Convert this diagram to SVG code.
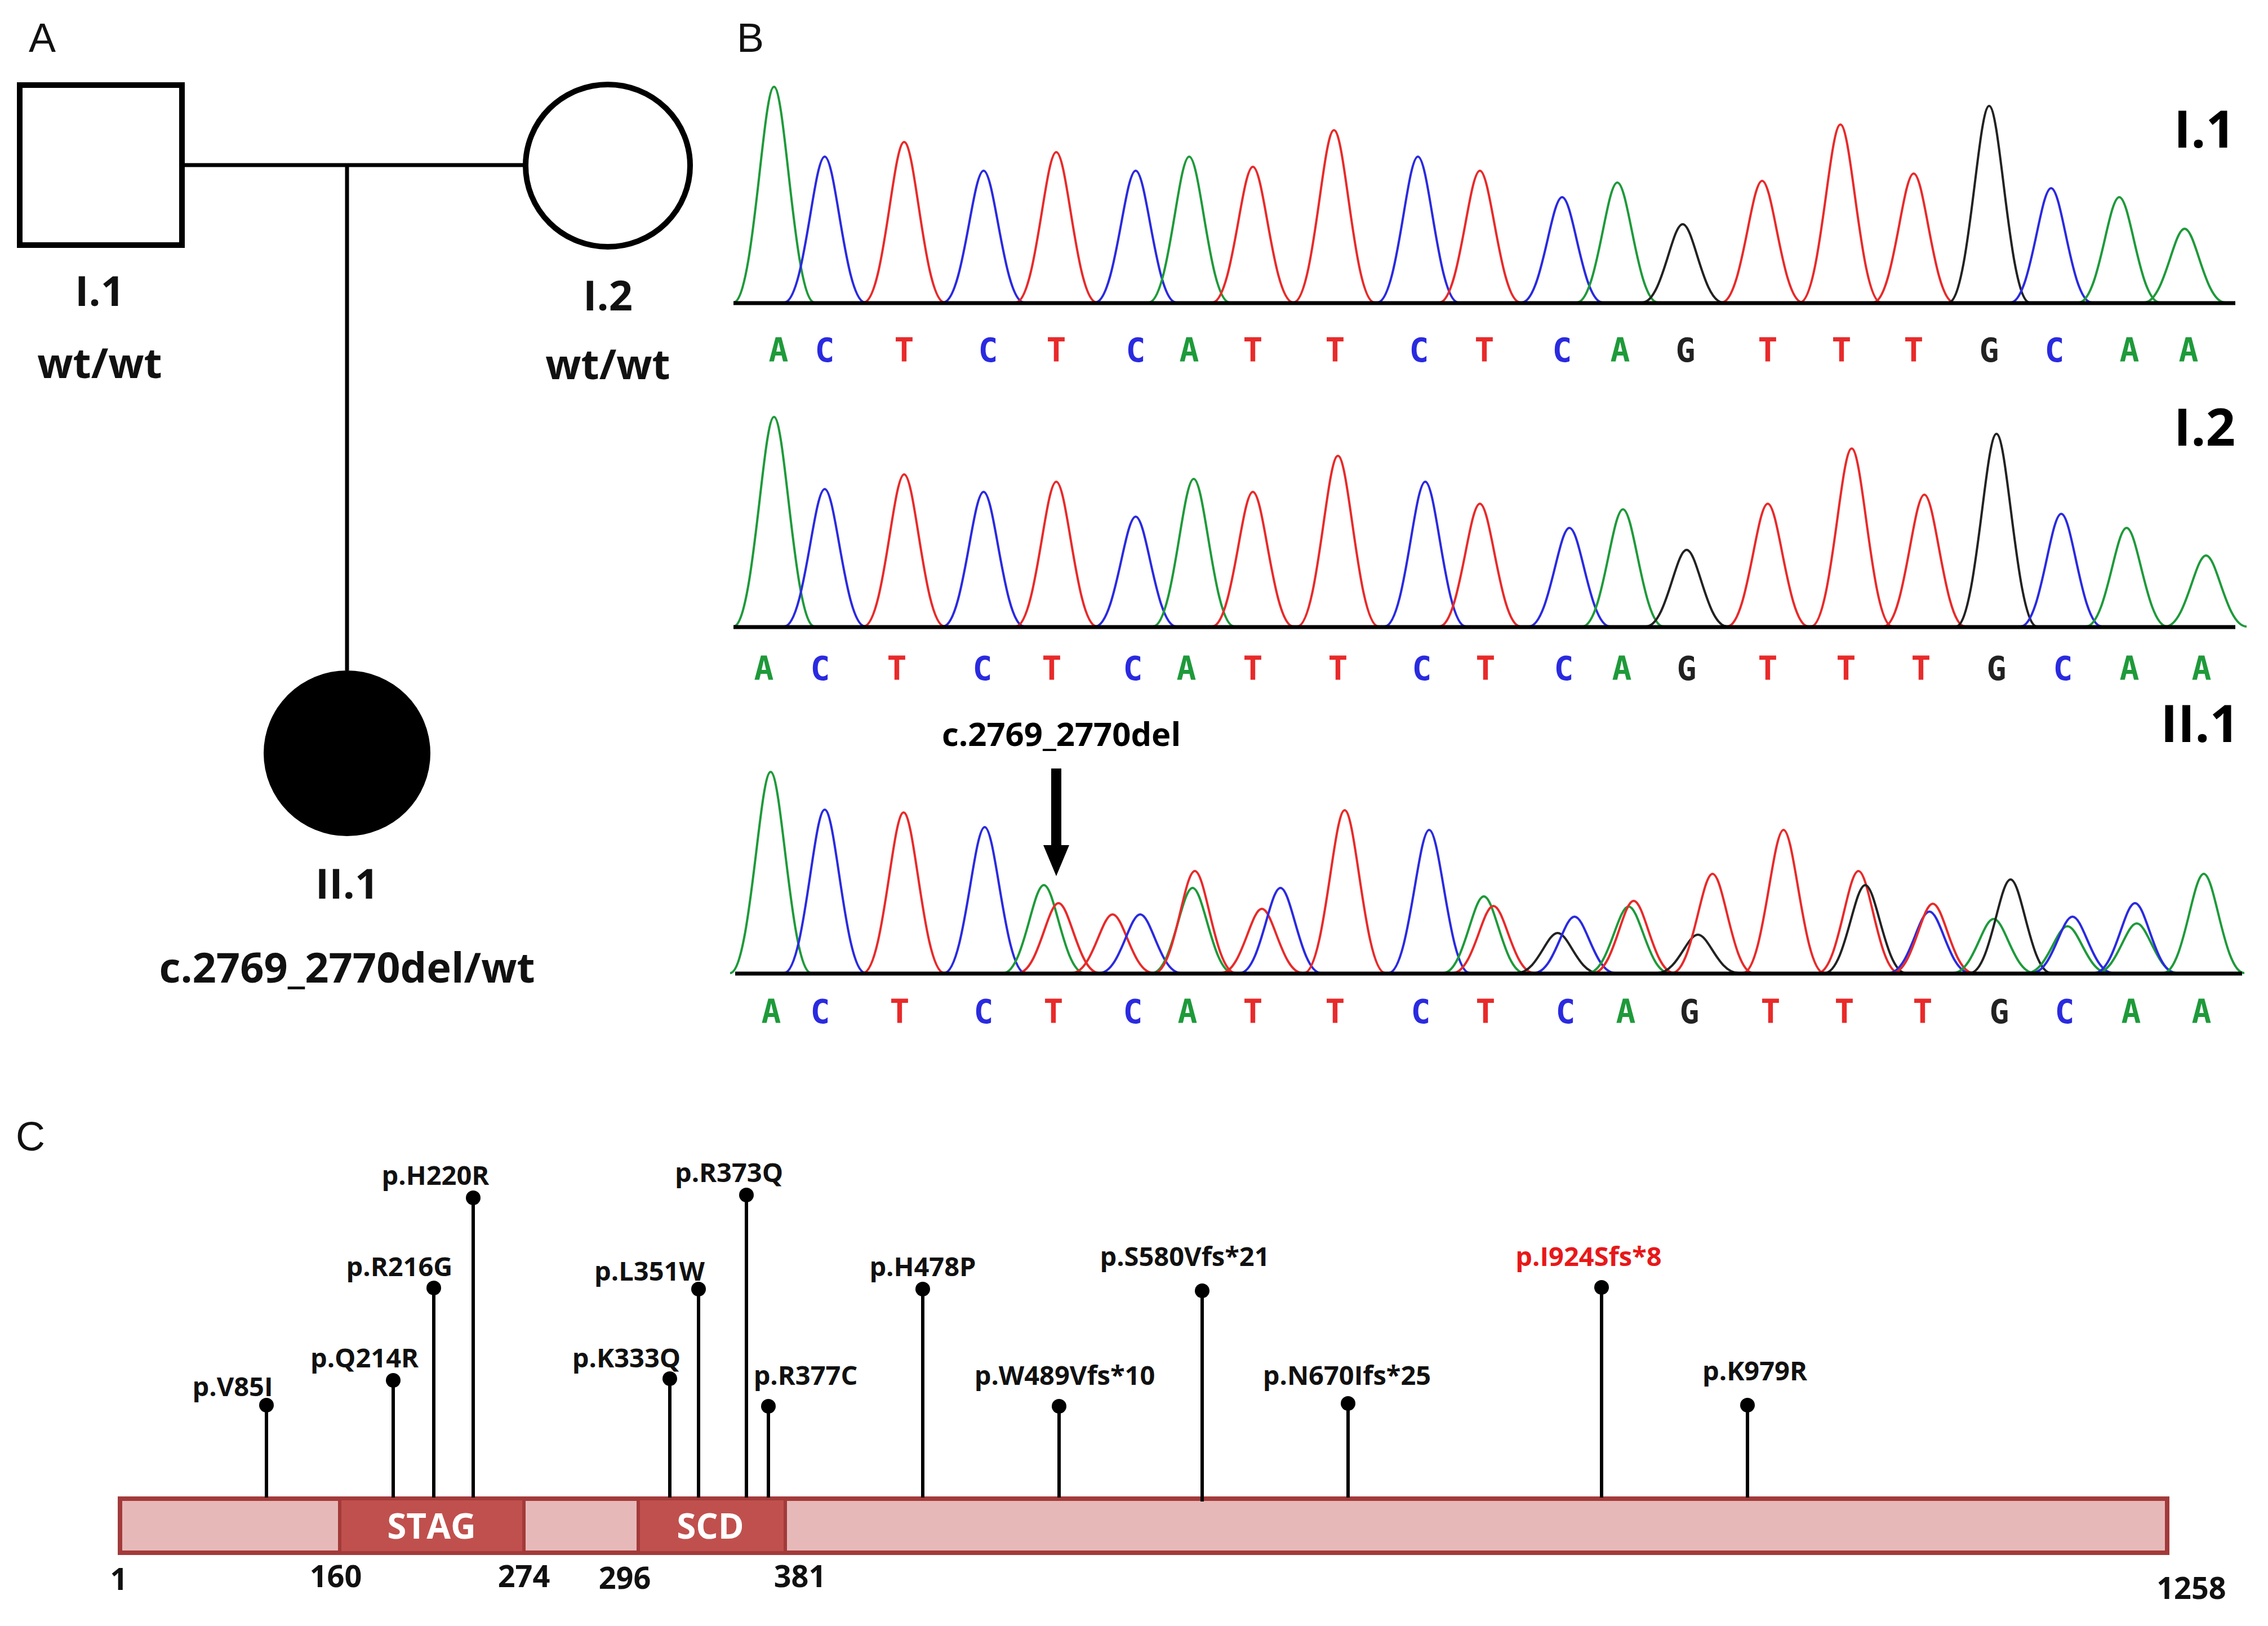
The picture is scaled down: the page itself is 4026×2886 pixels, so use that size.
<svg xmlns="http://www.w3.org/2000/svg" xmlns:xlink="http://www.w3.org/1999/xlink" width="4026" height="2886" viewBox="0 0 4026 2886">
<style>
.lab{font-family:"Open Sans","Liberation Sans",sans-serif;font-weight:bold;fill:#111;text-anchor:middle}
.pl{font-family:"Liberation Sans",sans-serif;font-size:72px;fill:#111}
.g{stroke:#1e9a3a}.b{stroke:#2a2ae0}.r{stroke:#e82a2a}.k{stroke:#222}
.ba{font-family:"DejaVu Sans Mono",monospace;font-weight:bold;font-size:58px;text-anchor:middle}
.tg{fill:#1e9a3a}.tb{fill:#2a2ae0}.tr{fill:#e82a2a}.tk{fill:#222}
.ln{stroke:#000;stroke-width:6;fill:none}
.ml{font-family:"Open Sans","Liberation Sans",sans-serif;font-weight:bold;font-size:47px;fill:#111;text-anchor:middle}
.num{font-family:"Open Sans","Liberation Sans",sans-serif;font-weight:bold;font-size:54px;fill:#111;text-anchor:middle}
</style>
<defs>
<path id="pk" d="M-72,0 C-36,0 -20,-1 0,-1 C20,-1 36,0 72,0" fill="none" stroke-width="4" vector-effect="non-scaling-stroke"/>
</defs>
<rect width="4026" height="2886" fill="#fff"/>
<text class="pl" x="51" y="92">A</text>
<text class="pl" x="1308" y="92">B</text>
<text class="pl" x="28" y="2042">C</text>

<g id="connectors" stroke="#000" stroke-width="7" fill="none">
<line x1="324" y1="293" x2="933" y2="293"/>
<line x1="616" y1="293" x2="616" y2="1190"/>
</g>
<g id="I1"><rect x="35" y="151" width="288" height="284" fill="#fff" stroke="#000" stroke-width="10"/>
<text class="lab" x="177" y="543" font-size="74">I.1</text><text class="lab" x="177" y="671" font-size="74">wt/wt</text></g>
<g id="I2"><ellipse cx="1079" cy="294" rx="146" ry="144" fill="#fff" stroke="#000" stroke-width="10"/>
<text class="lab" x="1079" y="551" font-size="74">I.2</text><text class="lab" x="1079" y="673" font-size="74">wt/wt</text></g>
<g id="II1"><ellipse cx="616" cy="1337" rx="148" ry="147" fill="#000"/>
<text class="lab" x="616" y="1595" font-size="74">II.1</text><text class="lab" x="616" y="1744" font-size="74">c.2769_2770del/wt</text></g>

<g id="trace1">
<use xlink:href="#pk" class="g" transform="translate(1374,537) scale(1,383)"/>
<use xlink:href="#pk" class="b" transform="translate(1464,537) scale(1,259)"/>
<use xlink:href="#pk" class="r" transform="translate(1605,537) scale(1,285)"/>
<use xlink:href="#pk" class="b" transform="translate(1746,537) scale(1,234)"/>
<use xlink:href="#pk" class="r" transform="translate(1875,537) scale(1,267)"/>
<use xlink:href="#pk" class="b" transform="translate(2016,537) scale(1,234)"/>
<use xlink:href="#pk" class="g" transform="translate(2111,537) scale(1,259)"/>
<use xlink:href="#pk" class="r" transform="translate(2224,537) scale(1,241)"/>
<use xlink:href="#pk" class="r" transform="translate(2368,537) scale(1,306)"/>
<use xlink:href="#pk" class="b" transform="translate(2517,537) scale(1,259)"/>
<use xlink:href="#pk" class="r" transform="translate(2627,537) scale(1,234)"/>
<use xlink:href="#pk" class="b" transform="translate(2773,537) scale(1,187)"/>
<use xlink:href="#pk" class="g" transform="translate(2871,537) scale(1,213)"/>
<use xlink:href="#pk" class="k" transform="translate(2987,537) scale(1,139)"/>
<use xlink:href="#pk" class="r" transform="translate(3128,537) scale(1,216)"/>
<use xlink:href="#pk" class="r" transform="translate(3267,537) scale(1,316)"/>
<use xlink:href="#pk" class="r" transform="translate(3397,537) scale(1,229)"/>
<use xlink:href="#pk" class="k" transform="translate(3531,537) scale(1,349)"/>
<use xlink:href="#pk" class="b" transform="translate(3641,537) scale(1,203)"/>
<use xlink:href="#pk" class="g" transform="translate(3762,537) scale(1,187)"/>
<use xlink:href="#pk" class="g" transform="translate(3878,537) scale(1,131)"/>
<line x1="1302" y1="538" x2="3968" y2="538" stroke="#000" stroke-width="7"/>
<text x="3968" y="262" font-family="'Open Sans','Liberation Sans',sans-serif" font-weight="bold" font-size="92" text-anchor="end">I.1</text>
</g>
<g id="trace2">
<use xlink:href="#pk" class="g" transform="translate(1374,1112) scale(1,372)"/>
<use xlink:href="#pk" class="b" transform="translate(1464,1112) scale(1,244)"/>
<use xlink:href="#pk" class="r" transform="translate(1605,1112) scale(1,270)"/>
<use xlink:href="#pk" class="b" transform="translate(1746,1112) scale(1,239)"/>
<use xlink:href="#pk" class="r" transform="translate(1875,1112) scale(1,257)"/>
<use xlink:href="#pk" class="b" transform="translate(2016,1112) scale(1,195)"/>
<use xlink:href="#pk" class="g" transform="translate(2119,1112) scale(1,262)"/>
<use xlink:href="#pk" class="r" transform="translate(2224,1112) scale(1,239)"/>
<use xlink:href="#pk" class="r" transform="translate(2375,1112) scale(1,303)"/>
<use xlink:href="#pk" class="b" transform="translate(2530,1112) scale(1,257)"/>
<use xlink:href="#pk" class="r" transform="translate(2627,1112) scale(1,218)"/>
<use xlink:href="#pk" class="b" transform="translate(2786,1112) scale(1,175)"/>
<use xlink:href="#pk" class="g" transform="translate(2881,1112) scale(1,208)"/>
<use xlink:href="#pk" class="k" transform="translate(2994,1112) scale(1,136)"/>
<use xlink:href="#pk" class="r" transform="translate(3138,1112) scale(1,218)"/>
<use xlink:href="#pk" class="r" transform="translate(3287,1112) scale(1,316)"/>
<use xlink:href="#pk" class="r" transform="translate(3416,1112) scale(1,234)"/>
<use xlink:href="#pk" class="k" transform="translate(3544,1112) scale(1,342)"/>
<use xlink:href="#pk" class="b" transform="translate(3659,1112) scale(1,200)"/>
<use xlink:href="#pk" class="g" transform="translate(3775,1112) scale(1,175)"/>
<use xlink:href="#pk" class="g" transform="translate(3916,1112) scale(1,126)"/>
<line x1="1302" y1="1113" x2="3968" y2="1113" stroke="#000" stroke-width="7"/>
<text x="3968" y="791" font-family="'Open Sans','Liberation Sans',sans-serif" font-weight="bold" font-size="92" text-anchor="end">I.2</text>
</g>
<g id="trace3">
<use xlink:href="#pk" class="g" transform="translate(1368,1727) scale(1,357)"/>
<use xlink:href="#pk" class="b" transform="translate(1464,1727) scale(1,290)"/>
<use xlink:href="#pk" class="r" transform="translate(1604,1727) scale(1,285)"/>
<use xlink:href="#pk" class="b" transform="translate(1748,1727) scale(1,259)"/>
<use xlink:href="#pk" class="g" transform="translate(1853,1727) scale(1,156)"/>
<use xlink:href="#pk" class="r" transform="translate(1879,1727) scale(1,124)"/>
<use xlink:href="#pk" class="r" transform="translate(1975,1727) scale(1,104)"/>
<use xlink:href="#pk" class="b" transform="translate(2024,1727) scale(1,104)"/>
<use xlink:href="#pk" class="g" transform="translate(2117,1727) scale(1,151)"/>
<use xlink:href="#pk" class="r" transform="translate(2121,1727) scale(1,181)"/>
<use xlink:href="#pk" class="r" transform="translate(2240,1727) scale(1,114)"/>
<use xlink:href="#pk" class="b" transform="translate(2273,1727) scale(1,151)"/>
<use xlink:href="#pk" class="r" transform="translate(2387,1727) scale(1,289)"/>
<use xlink:href="#pk" class="b" transform="translate(2537,1727) scale(1,254)"/>
<use xlink:href="#pk" class="g" transform="translate(2634,1727) scale(1,136)"/>
<use xlink:href="#pk" class="r" transform="translate(2651,1727) scale(1,119)"/>
<use xlink:href="#pk" class="k" transform="translate(2765,1727) scale(1,71)"/>
<use xlink:href="#pk" class="b" transform="translate(2795,1727) scale(1,100)"/>
<use xlink:href="#pk" class="g" transform="translate(2891,1727) scale(1,118)"/>
<use xlink:href="#pk" class="r" transform="translate(2900,1727) scale(1,128)"/>
<use xlink:href="#pk" class="k" transform="translate(3014,1727) scale(1,68)"/>
<use xlink:href="#pk" class="r" transform="translate(3040,1727) scale(1,176)"/>
<use xlink:href="#pk" class="r" transform="translate(3166,1727) scale(1,254)"/>
<use xlink:href="#pk" class="r" transform="translate(3299,1727) scale(1,181)"/>
<use xlink:href="#pk" class="k" transform="translate(3311,1727) scale(1,156)"/>
<use xlink:href="#pk" class="b" transform="translate(3425,1727) scale(1,109)"/>
<use xlink:href="#pk" class="r" transform="translate(3431,1727) scale(1,123)"/>
<use xlink:href="#pk" class="g" transform="translate(3539,1727) scale(1,96)"/>
<use xlink:href="#pk" class="k" transform="translate(3569,1727) scale(1,166)"/>
<use xlink:href="#pk" class="g" transform="translate(3670,1727) scale(1,83)"/>
<use xlink:href="#pk" class="b" transform="translate(3679,1727) scale(1,100)"/>
<use xlink:href="#pk" class="g" transform="translate(3793,1727) scale(1,88)"/>
<use xlink:href="#pk" class="b" transform="translate(3790,1727) scale(1,124)"/>
<use xlink:href="#pk" class="g" transform="translate(3912,1727) scale(1,176)"/>
<line x1="1305" y1="1728" x2="3980" y2="1728" stroke="#000" stroke-width="7"/>
<text x="3975" y="1317" font-family="'Open Sans','Liberation Sans',sans-serif" font-weight="bold" font-size="92" text-anchor="end">II.1</text>
<text x="1884" y="1324" font-family="'Open Sans','Liberation Sans',sans-serif" font-weight="bold" font-size="58" text-anchor="middle">c.2769_2770del</text>
<rect x="1866" y="1364" width="18" height="140" fill="#000"/>
<polygon points="1852,1500 1898,1500 1875,1555" fill="#000"/>
</g>
<g id="bases">
<g class="ba">
<text class="tg" x="1382" y="642">A</text><text class="tb" x="1464" y="642">C</text><text class="tr" x="1605" y="642">T</text><text class="tb" x="1754" y="642">C</text><text class="tr" x="1875" y="642">T</text><text class="tb" x="2016" y="642">C</text><text class="tg" x="2111" y="642">A</text><text class="tr" x="2224" y="642">T</text><text class="tr" x="2370" y="642">T</text><text class="tb" x="2519" y="642">C</text><text class="tr" x="2635" y="642">T</text><text class="tb" x="2773" y="642">C</text><text class="tg" x="2876" y="642">A</text><text class="tk" x="2992" y="642">G</text><text class="tr" x="3138" y="642">T</text><text class="tr" x="3269" y="642">T</text><text class="tr" x="3397" y="642">T</text><text class="tk" x="3531" y="642">G</text><text class="tb" x="3647" y="642">C</text><text class="tg" x="3780" y="642">A</text><text class="tg" x="3885" y="642">A</text>
</g>
<g class="ba">
<text class="tg" x="1356" y="1207">A</text><text class="tb" x="1456" y="1207">C</text><text class="tr" x="1592" y="1207">T</text><text class="tb" x="1744" y="1207">C</text><text class="tr" x="1867" y="1207">T</text><text class="tb" x="2011" y="1207">C</text><text class="tg" x="2106" y="1207">A</text><text class="tr" x="2224" y="1207">T</text><text class="tr" x="2375" y="1207">T</text><text class="tb" x="2524" y="1207">C</text><text class="tr" x="2637" y="1207">T</text><text class="tb" x="2776" y="1207">C</text><text class="tg" x="2879" y="1207">A</text><text class="tk" x="2994" y="1207">G</text><text class="tr" x="3138" y="1207">T</text><text class="tr" x="3277" y="1207">T</text><text class="tr" x="3410" y="1207">T</text><text class="tk" x="3544" y="1207">G</text><text class="tb" x="3662" y="1207">C</text><text class="tg" x="3780" y="1207">A</text><text class="tg" x="3908" y="1207">A</text>
</g>
<g class="ba">
<text class="tg" x="1369" y="1816">A</text><text class="tb" x="1456" y="1816">C</text><text class="tr" x="1597" y="1816">T</text><text class="tb" x="1746" y="1816">C</text><text class="tr" x="1870" y="1816">T</text><text class="tb" x="2011" y="1816">C</text><text class="tg" x="2108" y="1816">A</text><text class="tr" x="2224" y="1816">T</text><text class="tr" x="2370" y="1816">T</text><text class="tb" x="2522" y="1816">C</text><text class="tr" x="2637" y="1816">T</text><text class="tb" x="2779" y="1816">C</text><text class="tg" x="2886" y="1816">A</text><text class="tk" x="2999" y="1816">G</text><text class="tr" x="3143" y="1816">T</text><text class="tr" x="3274" y="1816">T</text><text class="tr" x="3413" y="1816">T</text><text class="tk" x="3549" y="1816">G</text><text class="tb" x="3665" y="1816">C</text><text class="tg" x="3783" y="1816">A</text><text class="tg" x="3908" y="1816">A</text>
</g>
</g>

<g id="protein">
<rect x="213" y="2660" width="3634" height="96" fill="#e6b9b8" stroke="#a33a3a" stroke-width="8"/>
<rect x="603" y="2660" width="327" height="96" fill="#c0504d" stroke="#a33a3a" stroke-width="6"/>
<rect x="1133" y="2660" width="261" height="96" fill="#c0504d" stroke="#a33a3a" stroke-width="6"/>
<text x="766" y="2731" font-family="'Open Sans','Liberation Sans',sans-serif" font-weight="bold" font-size="62" fill="#fff" text-anchor="middle">STAG</text>
<text x="1261" y="2731" font-family="'Open Sans','Liberation Sans',sans-serif" font-weight="bold" font-size="62" fill="#fff" text-anchor="middle">SCD</text>
<text class="num" x="211" y="2822">1</text><text class="num" x="596" y="2817">160</text><text class="num" x="930" y="2817">274</text><text class="num" x="1109" y="2820">296</text><text class="num" x="1420" y="2817">381</text><text class="num" x="3890" y="2838">1258</text>
</g>
<g id="lollipops">
<g class="ln">
<line x1="473" y1="2494" x2="473" y2="2658"/><line x1="698" y1="2450" x2="698" y2="2658"/><line x1="770" y1="2286" x2="770" y2="2658"/><line x1="840" y1="2126" x2="840" y2="2658"/><line x1="1189" y1="2447" x2="1189" y2="2658"/><line x1="1240" y1="2288" x2="1240" y2="2658"/><line x1="1325" y1="2121" x2="1325" y2="2658"/><line x1="1364" y1="2496" x2="1364" y2="2658"/><line x1="1638" y1="2288" x2="1638" y2="2658"/><line x1="1880" y1="2496" x2="1880" y2="2658"/><line x1="2134" y1="2291" x2="2134" y2="2665"/><line x1="2393" y1="2491" x2="2393" y2="2658"/><line x1="2843" y1="2285" x2="2843" y2="2658"/><line x1="3102" y1="2494" x2="3102" y2="2658"/>
</g>
<g fill="#000">
<circle cx="473" cy="2494" r="13"/><circle cx="698" cy="2450" r="13"/><circle cx="770" cy="2286" r="13"/><circle cx="840" cy="2126" r="13"/><circle cx="1189" cy="2447" r="13"/><circle cx="1240" cy="2288" r="13"/><circle cx="1325" cy="2121" r="13"/><circle cx="1364" cy="2496" r="13"/><circle cx="1638" cy="2288" r="13"/><circle cx="1880" cy="2496" r="13"/><circle cx="2134" cy="2291" r="13"/><circle cx="2393" cy="2491" r="13"/><circle cx="2843" cy="2285" r="13"/><circle cx="3102" cy="2494" r="13"/>
</g>
<text class="ml" x="413" y="2478">p.V85I</text>
<text class="ml" x="647" y="2427">p.Q214R</text>
<text class="ml" x="709" y="2265">p.R216G</text>
<text class="ml" x="773" y="2103">p.H220R</text>
<text class="ml" x="1112" y="2427">p.K333Q</text>
<text class="ml" x="1153" y="2273">p.L351W</text>
<text class="ml" x="1294" y="2098">p.R373Q</text>
<text class="ml" x="1430" y="2458">p.R377C</text>
<text class="ml" x="1638" y="2265">p.H478P</text>
<text class="ml" x="1890" y="2458">p.W489Vfs*10</text>
<text class="ml" x="2103" y="2247">p.S580Vfs*21</text>
<text class="ml" x="2391" y="2458">p.N670Ifs*25</text>
<text class="ml" x="2820" y="2247" style="fill:#e81818">p.I924Sfs*8</text>
<text class="ml" x="3115" y="2450">p.K979R</text>
</g>
</svg>
